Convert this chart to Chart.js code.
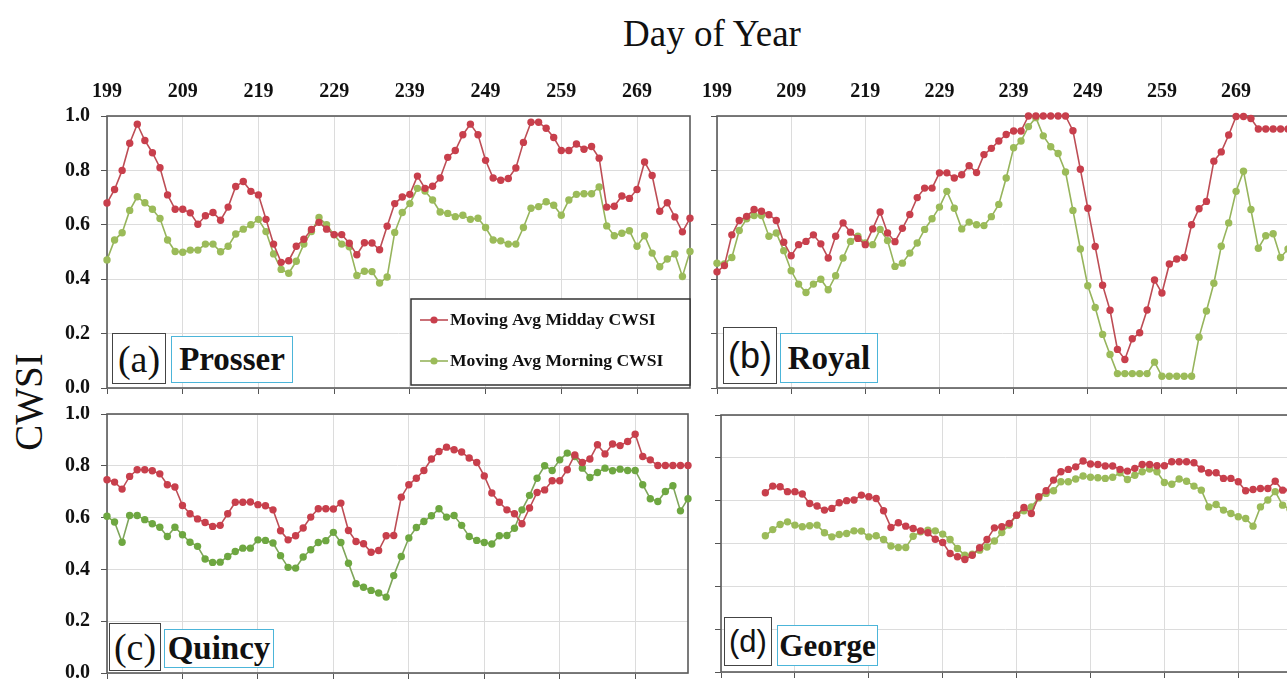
<!DOCTYPE html>
<html>
<head>
<meta charset="utf-8">
<script src="https://cdn.jsdelivr.net/npm/chart.js@4.4.1/dist/chart.umd.min.js"></script>
<style>
  html, body { margin:0; padding:0; background:#fff; overflow:hidden; }
  #wrap { position:relative; width:1287px; height:680px; overflow:hidden; background:#fff; }
  #wrap canvas { position:absolute; }
  #title { position:absolute; left:712px; top:33px; transform:translate(-50%,-50%); font:37px "Liberation Serif", serif; color:#111; white-space:nowrap; }
  #ylab { position:absolute; left:28px; top:402px; transform:translate(-50%,-50%) rotate(-90deg); font:39px "Liberation Serif", serif; color:#111; white-space:nowrap; }
  .box { position:absolute; box-sizing:border-box; background:#fff; display:flex; align-items:center; justify-content:center; color:#111; white-space:nowrap; line-height:1; }
  .tag { border:1.5px solid #444; font-family:"Liberation Serif", serif; }
  .tag.sans { font-family:"Liberation Sans", sans-serif; }
  .site { border:1.5px solid #4cb5d9; font-family:"Liberation Serif", serif; font-weight:bold; }
</style>
</head>
<body>
<div id="wrap">
  <div id="title">Day of Year</div>
  <div id="ylab">CWSI</div>
  <canvas id="pa" width="694" height="326" style="left:0;top:70px"></canvas>
  <canvas id="pb" width="592" height="326" style="left:700px;top:70px"></canvas>
  <canvas id="pc" width="692" height="275" style="left:0;top:406px"></canvas>
  <canvas id="pd" width="594" height="273" style="left:700px;top:407px"></canvas>

  <div class="box tag" style="left:112px;top:333px;width:54px;height:51px;font-size:38px">(a)</div>
  <div class="box site" style="left:171px;top:336px;width:122px;height:47px;font-size:33px">Prosser</div>
  <div class="box tag sans" style="left:723px;top:327px;width:54px;height:57px;font-size:36px">(b)</div>
  <div class="box site" style="left:780px;top:333px;width:98px;height:50px;font-size:33px">Royal</div>
  <div class="box tag" style="left:109px;top:623px;width:52px;height:48px;font-size:38px">(c)</div>
  <div class="box site" style="left:164px;top:629px;width:110px;height:39px;font-size:33px">Quincy</div>
  <div class="box tag sans" style="left:724px;top:617px;width:48px;height:49px;font-size:31px">(d)</div>
  <div class="box site" style="left:777px;top:625px;width:101px;height:41px;font-size:31px">George</div>
</div>
<script>
// day of year, one point per day
const DAYS = [
  199,200,201,202,203,204,205,206,207,208,
  209,210,211,212,213,214,215,216,217,218,
  219,220,221,222,223,224,225,226,227,228,
  229,230,231,232,233,234,235,236,237,238,
  239,240,241,242,243,244,245,246,247,248,
  249,250,251,252,253,254,255,256,257,258,
  259,260,261,262,263,264,265,266,267,268,
  269,270,271,272,273,274,275,276
];
const DAY_TICKS = [199,209,219,229,239,249,259,269];

const PROSSER_MIDDAY = [
  0.68,0.73,0.80,0.90,0.97,0.91,0.865,0.81,0.71,0.657,
  0.657,0.644,0.602,0.633,0.645,0.617,0.665,0.741,0.759,0.723,
  0.71,0.62,0.529,0.462,0.468,0.521,0.547,0.583,0.609,0.584,
  0.564,0.564,0.532,0.49,0.534,0.533,0.508,0.595,0.678,0.702,
  0.712,0.779,0.734,0.742,0.772,0.848,0.873,0.931,0.97,0.931,
  0.837,0.772,0.764,0.77,0.809,0.903,0.977,0.977,0.955,0.921,
  0.873,0.873,0.897,0.878,0.888,0.845,0.665,0.668,0.706,0.697,
  0.73,0.831,0.781,0.65,0.681,0.629,0.574,0.624
];
const PROSSER_MORNING = [
  0.471,0.544,0.571,0.653,0.703,0.681,0.657,0.623,0.544,0.502,
  0.499,0.507,0.507,0.529,0.529,0.501,0.521,0.566,0.584,0.6,
  0.62,0.575,0.493,0.436,0.422,0.466,0.529,0.575,0.627,0.6,
  0.563,0.529,0.519,0.414,0.429,0.428,0.386,0.408,0.572,0.645,
  0.678,0.734,0.724,0.691,0.647,0.642,0.63,0.635,0.62,0.624,
  0.59,0.544,0.541,0.529,0.529,0.59,0.661,0.667,0.685,0.672,
  0.635,0.691,0.712,0.714,0.714,0.739,0.596,0.56,0.569,0.578,
  0.521,0.56,0.496,0.446,0.474,0.493,0.41,0.502
];
const ROYAL_MIDDAY = [
  0.427,0.45,0.563,0.616,0.631,0.656,0.65,0.637,0.616,0.536,
  0.486,0.527,0.539,0.563,0.53,0.478,0.558,0.607,0.573,0.55,
  0.527,0.585,0.647,0.57,0.538,0.587,0.638,0.7,0.735,0.735,
  0.791,0.791,0.772,0.784,0.817,0.792,0.858,0.881,0.908,0.932,
  0.945,0.945,1.0,1.0,1.0,1.0,1.0,1.0,0.946,0.804,
  0.661,0.52,0.378,0.286,0.142,0.105,0.181,0.203,0.287,0.397,
  0.349,0.456,0.474,0.48,0.6,0.659,0.686,0.834,0.868,0.93,
  0.998,0.998,0.991,0.952,0.952,0.952,0.952,0.952
];
const ROYAL_MORNING = [
  0.459,0.456,0.48,0.579,0.622,0.634,0.634,0.558,0.57,0.505,
  0.431,0.382,0.351,0.382,0.4,0.361,0.413,0.478,0.539,0.558,
  0.533,0.527,0.583,0.542,0.447,0.459,0.496,0.533,0.583,0.622,
  0.665,0.723,0.661,0.585,0.61,0.6,0.597,0.63,0.675,0.772,
  0.883,0.908,0.961,0.994,0.927,0.887,0.862,0.794,0.653,0.511,
  0.376,0.296,0.197,0.123,0.053,0.053,0.053,0.053,0.053,0.095,
  0.043,0.043,0.043,0.043,0.043,0.187,0.283,0.385,0.521,0.607,
  0.723,0.797,0.656,0.514,0.56,0.567,0.48,0.511
];
const QUINCY_MIDDAY = [
  0.746,0.737,0.71,0.759,0.785,0.785,0.781,0.769,0.727,0.718,
  0.647,0.615,0.595,0.581,0.566,0.57,0.615,0.659,0.659,0.66,
  0.65,0.646,0.63,0.549,0.514,0.53,0.56,0.602,0.634,0.634,
  0.633,0.656,0.55,0.508,0.499,0.466,0.473,0.53,0.531,0.679,
  0.727,0.752,0.782,0.826,0.855,0.872,0.862,0.853,0.83,0.813,
  0.761,0.695,0.659,0.63,0.615,0.576,0.637,0.697,0.707,0.742,
  0.742,0.785,0.842,0.813,0.826,0.881,0.846,0.884,0.878,0.894,
  0.922,0.836,0.823,0.801,0.801,0.801,0.801,0.801
];
const QUINCY_MORNING = [
  0.605,0.583,0.505,0.608,0.608,0.592,0.576,0.563,0.527,0.563,
  0.534,0.505,0.489,0.44,0.427,0.428,0.45,0.469,0.482,0.482,
  0.514,0.512,0.502,0.453,0.408,0.405,0.448,0.476,0.504,0.511,
  0.543,0.504,0.424,0.345,0.331,0.319,0.309,0.293,0.376,0.45,
  0.521,0.562,0.585,0.607,0.634,0.602,0.608,0.57,0.527,0.512,
  0.504,0.498,0.53,0.531,0.559,0.63,0.686,0.752,0.8,0.782,
  0.823,0.849,0.836,0.791,0.755,0.774,0.791,0.781,0.787,0.782,
  0.782,0.727,0.673,0.662,0.701,0.723,0.626,0.673
];
const GEORGE_MIDDAY = [
  null,null,null,null,null,null,0.837,0.868,0.865,0.842,
  0.842,0.831,0.787,0.775,0.756,0.764,0.79,0.8,0.803,0.826,
  0.818,0.81,0.753,0.675,0.697,0.681,0.67,0.659,0.65,0.62,
  0.605,0.553,0.538,0.525,0.545,0.58,0.619,0.673,0.678,0.694,
  0.732,0.768,0.74,0.818,0.846,0.896,0.935,0.946,0.958,0.985,
  0.971,0.969,0.962,0.962,0.946,0.938,0.951,0.969,0.969,0.963,
  0.963,0.982,0.982,0.982,0.977,0.948,0.93,0.93,0.904,0.904,
  0.888,0.846,0.852,0.857,0.857,0.891,0.849,0.849
];
const GEORGE_MORNING = [
  null,null,null,null,null,null,0.636,0.665,0.689,0.701,
  0.686,0.678,0.683,0.686,0.65,0.631,0.642,0.647,0.659,0.658,
  0.631,0.636,0.619,0.588,0.581,0.581,0.634,0.655,0.662,0.659,
  0.644,0.619,0.577,0.545,0.55,0.569,0.584,0.612,0.651,0.686,
  0.732,0.753,0.771,0.813,0.834,0.846,0.888,0.888,0.901,0.915,
  0.909,0.907,0.904,0.909,0.93,0.899,0.919,0.935,0.948,0.935,
  0.885,0.877,0.901,0.891,0.868,0.849,0.771,0.782,0.756,0.74,
  0.725,0.717,0.681,0.771,0.803,0.842,0.779,0.76
];

const RED = '#c83f4c', RED_LINE = '#bd4d55';
const GREEN = '#9bbb59', GREEN_LINE = '#96b45c';
const GREEN_C = '#6ea741', GREEN_C_LINE = '#7ea55a';
const GRID = '#dcdcdc', AXIS = '#555';

Chart.defaults.font.family = '"Liberation Serif", "Times New Roman", serif';
Chart.defaults.color = '#111';

const setDayTicks = s => { s.ticks = DAY_TICKS.map(v => ({ value: v })); };
// fixed axis sizes so the plot areas land where the figure has them
const fixPad = s => { s.paddingTop = 0; s.paddingBottom = 0; s.paddingLeft = 0; s.paddingRight = 0; };

// plot frame, drawn under the points
const frame = {
  id: 'frame',
  beforeDatasetsDraw(chart){
    const { ctx, chartArea: a } = chart;
    ctx.save();
    ctx.strokeStyle = '#5a5a5a'; ctx.lineWidth = 1.6;
    ctx.strokeRect(a.left, a.top, a.right - a.left, a.bottom - a.top);
    ctx.restore();
  }
};

// boxed legend in the lower right of panel (a)
const legendBox = {
  id: 'legendBox',
  afterDatasetsDraw(chart, args, opts){
    if(!opts.show) return;
    const { ctx, chartArea: a } = chart;
    const w = 279, h = 86;
    const x0 = a.right - w, y0 = a.bottom - h - 3;
    ctx.save();
    ctx.fillStyle = '#fff'; ctx.fillRect(x0, y0, w, h);
    ctx.strokeStyle = '#333'; ctx.lineWidth = 1.5; ctx.strokeRect(x0, y0, w, h);
    chart.data.datasets.forEach((ds, i) => {
      const y = y0 + 21 + i * 41;
      ctx.strokeStyle = ds.borderColor; ctx.lineWidth = 1.6;
      ctx.beginPath(); ctx.moveTo(x0 + 9, y); ctx.lineTo(x0 + 37, y); ctx.stroke();
      ctx.fillStyle = ds.pointBackgroundColor;
      ctx.beginPath(); ctx.arc(x0 + 23, y, 3.6, 0, Math.PI * 2); ctx.fill();
      ctx.save();
      ctx.translate(x0 + 39, y); ctx.scale(1.1, 1);
      ctx.font = 'bold 16px "Liberation Serif"'; ctx.fillStyle = '#111'; ctx.textBaseline = 'middle';
      ctx.fillText(ds.label, 0, 1);
      ctx.restore();
    });
    ctx.restore();
  }
};

function series(label, vals, color, lineColor){
  return {
    label, data: DAYS.map((d, i) => ({ x: d, y: vals[i] })),
    borderColor: lineColor, backgroundColor: color, pointBackgroundColor: color,
    pointBorderWidth: 0, pointRadius: 3.7, borderWidth: 1.6, tension: 0, clip: false
  };
}

function makePanel(id, o){
  const scales = {
    x: { type: 'linear', position: 'bottom', min: 199, max: 276, afterBuildTicks: setDayTicks,
         grid: { color: GRID, tickColor: AXIS, tickLength: 6 }, border: { display: false },
         ticks: { display: false }, afterFit: s => { s.height = 8; fixPad(s); } },
    y: { min: 0, max: o.yMax,
         ticks: { stepSize: 0.2, display: o.yLabels, padding: 11, font: { size: 20, weight: 'bold' },
                  callback: v => v.toFixed(1) },
         grid: { color: GRID, tickColor: AXIS, tickLength: 6 }, border: { display: false },
         afterFit: s => { s.width = o.yWidth; fixPad(s); } }
  };
  if(o.topLabels){
    scales.xTop = { type: 'linear', axis: 'x', position: 'top', min: 199, max: 276, afterBuildTicks: setDayTicks,
      grid: { display: false, drawTicks: false }, border: { display: false },
      ticks: { padding: 12, font: { size: 20, weight: 'bold' } }, afterFit: s => { s.height = 46; fixPad(s); } };
  }
  return new Chart(document.getElementById(id), {
    type: 'line',
    data: { datasets: [
      series('Moving Avg Midday CWSI', o.midday, RED, RED_LINE),
      series('Moving Avg Morning CWSI', o.morning, o.green || GREEN, o.greenLine || GREEN_LINE)
    ]},
    options: {
      responsive: false, animation: false, events: [],
      layout: { padding: { top: o.padTop || 0, right: o.padRight, left: 0, bottom: 0 } },
      scales,
      plugins: { legend: { display: false }, tooltip: { enabled: false }, legendBox: { show: !!o.legend } }
    },
    plugins: [frame, legendBox]
  });
}

makePanel('pa', { midday: PROSSER_MIDDAY, morning: PROSSER_MORNING, yMax: 1, yLabels: true, yWidth: 107, topLabels: true, padRight: 2, legend: true });
makePanel('pb', { midday: ROYAL_MIDDAY, morning: ROYAL_MORNING, yMax: 1, yLabels: false, yWidth: 17, topLabels: true, padRight: 3 });
makePanel('pc', { midday: QUINCY_MIDDAY, morning: QUINCY_MORNING, yMax: 1, yLabels: true, yWidth: 107, padTop: 8, padRight: 2,
                  green: GREEN_C, greenLine: GREEN_C_LINE });
makePanel('pd', { midday: GEORGE_MIDDAY, morning: GEORGE_MORNING, yMax: 1.2, yLabels: false, yWidth: 21, padTop: 8, padRight: 2 });
</script>
</body>
</html>
